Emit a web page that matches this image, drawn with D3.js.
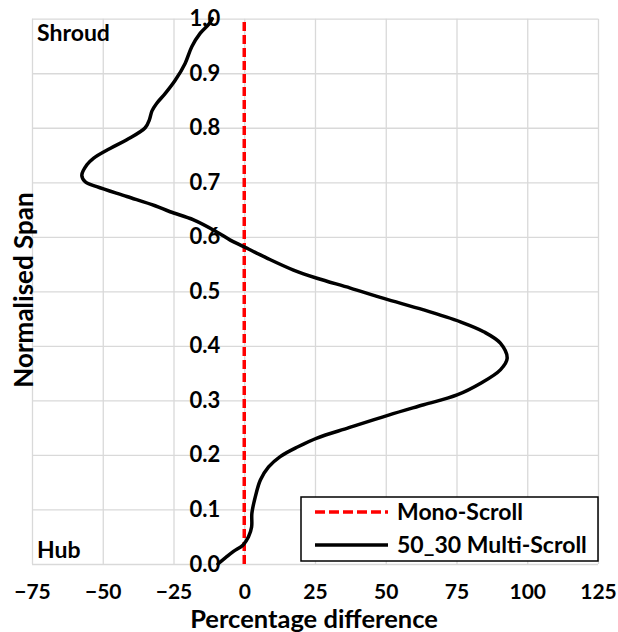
<!DOCTYPE html>
<html>
<head>
<meta charset="utf-8">
<script src="https://cdn.jsdelivr.net/npm/d3@7"></script>
<style>
  html, body { margin: 0; padding: 0; background: #ffffff; }
  svg { display: block; font-family: Lato, "Open Sans", sans-serif; font-weight: bold; }
</style>
</head>
<body>
<svg id="chart" width="618" height="632"></svg>
<script>
// Normalised span positions (hub = 0, shroud = 1)
const spanValues = [
  0.000, 0.012, 0.023, 0.035, 0.050, 0.068, 0.093, 0.123, 0.154, 0.178,
  0.197, 0.215, 0.231, 0.250, 0.273, 0.292, 0.310, 0.331, 0.356, 0.377,
  0.405, 0.426, 0.444, 0.466, 0.487, 0.506, 0.524, 0.539, 0.561, 0.582,
  0.594, 0.609, 0.631, 0.646, 0.657, 0.674, 0.692, 0.701, 0.713, 0.732,
  0.744, 0.762, 0.778, 0.800, 0.815, 0.831, 0.845, 0.863, 0.887, 0.918,
  0.949, 0.973, 0.990, 1.000
];
// Percentage difference of the 50_30 multi-scroll case relative to mono-scroll
const multiScrollPct = [
  -9.3, -6.5, -3.8, -0.4, 1.5, 2.6, 2.7, 3.9, 5.7, 8.6,
  12.7, 19.0, 25.7, 37.0, 51.0, 63.4, 75.2, 83.4, 90.5, 92.9,
  90.5, 84.6, 76.4, 63.4, 49.3, 37.5, 25.7, 17.4, 8.0, -0.2,
  -4.95, -9.7, -17.9, -26.2, -31.5, -41.5, -52.1, -56.2, -57.4, -55.6,
  -53.3, -47.4, -41.5, -35.0, -33.5, -32.6, -30.9, -27.9, -24.4, -20.9,
  -18.5, -15.6, -12.5, -11.3
];
// Mono-scroll baseline: zero difference along the whole span
const monoSpan = [0, 1];
const monoPct = [0, 0];

const xTicks = [-75, -50, -25, 0, 25, 50, 75, 100, 125];
const yTicks = [0, 0.1, 0.2, 0.3, 0.4, 0.5, 0.6, 0.7, 0.8, 0.9, 1.0];
const seriesNames = ["Mono-Scroll", "50_30 Multi-Scroll"];

const svg = d3.select("#chart");
const plot = { left: 32, right: 598, top: 18.7, bottom: 564 };

const x = d3.scaleLinear().domain([-75, 125]).range([plot.left, plot.right]);
const y = d3.scaleLinear().domain([0, 1]).range([plot.bottom, plot.top]);

const gridColor = "#d9d9d9";
const fontFamily = "Lato, 'Open Sans', sans-serif";

// Vertical gridlines
svg.append("g")
  .attr("transform", `translate(0,${plot.bottom})`)
  .call(d3.axisBottom(x).tickValues(xTicks).tickSize(-(plot.bottom - plot.top)).tickFormat(""))
  .call(g => g.select(".domain").remove())
  .call(g => g.selectAll("line").attr("stroke", gridColor).attr("stroke-width", 1.3));

// Horizontal gridlines
svg.append("g")
  .attr("transform", `translate(${plot.left},0)`)
  .call(d3.axisLeft(y).tickValues(yTicks).tickSize(-(plot.right - plot.left)).tickFormat(""))
  .call(g => g.select(".domain").remove())
  .call(g => g.selectAll("line").attr("stroke", gridColor).attr("stroke-width", 1.3));

// X tick labels below the plot
svg.append("g")
  .attr("transform", `translate(0,${plot.bottom})`)
  .call(d3.axisBottom(x).tickValues(xTicks).tickSize(0).tickPadding(20).tickFormat(d3.format("d")))
  .call(g => g.select(".domain").remove())
  .call(g => g.selectAll("text")
    .attr("fill", "#000").attr("font-size", 21).attr("font-family", fontFamily).attr("font-weight", "bold"));

// Y tick labels sit next to the zero line
svg.append("g")
  .attr("transform", `translate(${x(0)},0)`)
  .call(d3.axisLeft(y).tickValues(yTicks).tickSize(0).tickPadding(24).tickFormat(d3.format(".1f")))
  .call(g => g.select(".domain").remove())
  .call(g => g.selectAll("text")
    .attr("fill", "#000").attr("font-size", 22).attr("font-family", fontFamily).attr("font-weight", "bold"));

// Axis titles
svg.append("text")
  .attr("x", 314).attr("y", 628)
  .attr("text-anchor", "middle")
  .attr("font-size", 25.5)
  .text("Percentage difference");

svg.append("text")
  .attr("transform", "translate(33,290) rotate(-90)")
  .attr("text-anchor", "middle")
  .attr("font-size", 26)
  .text("Normalised Span");

// Region labels
svg.append("text").attr("x", 37).attr("y", 41).attr("font-size", 23).text("Shroud");
svg.append("text").attr("x", 37).attr("y", 558).attr("font-size", 23).text("Hub");

// Series lines
const line = d3.line()
  .x(d => x(d[1]))
  .y(d => y(d[0]))
  .curve(d3.curveCatmullRom.alpha(0.5));

svg.append("path")
  .datum(monoSpan.map((s, i) => [s, monoPct[i]]))
  .attr("d", line)
  .attr("fill", "none")
  .attr("stroke", "#ff0000")
  .attr("stroke-width", 3.5)
  .attr("stroke-dasharray", "9,4");

svg.append("path")
  .datum(spanValues.map((s, i) => [s, multiScrollPct[i]]))
  .attr("d", line)
  .attr("fill", "none")
  .attr("stroke", "#000")
  .attr("stroke-width", 3.5)
  .attr("stroke-linejoin", "round")
  .attr("stroke-linecap", "round");

// Legend
const legend = svg.append("g");
legend.append("rect")
  .attr("x", 301).attr("y", 497).attr("width", 297).attr("height", 64)
  .attr("fill", "#fff").attr("stroke", "#000").attr("stroke-width", 1.5);

const legendRows = [
  { name: seriesNames[0], color: "#ff0000", dash: "10,4", cy: 512 },
  { name: seriesNames[1], color: "#000", dash: null, cy: 545 }
];
legendRows.forEach(r => {
  legend.append("line")
    .attr("x1", 315).attr("x2", 388).attr("y1", r.cy).attr("y2", r.cy)
    .attr("stroke", r.color).attr("stroke-width", 3.5)
    .attr("stroke-dasharray", r.dash);
  legend.append("text")
    .attr("x", 397).attr("y", r.cy).attr("dy", "0.35em")
    .attr("font-size", 23)
    .text(r.name);
});
</script>
</body>
</html>
